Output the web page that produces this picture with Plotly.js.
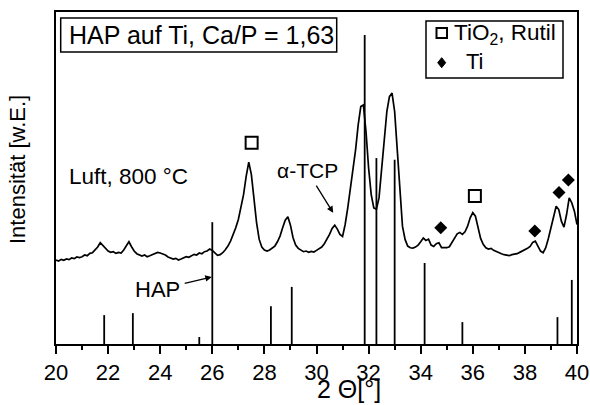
<!DOCTYPE html>
<html>
<head>
<meta charset="utf-8">
<script src="https://cdn.plot.ly/plotly-3.0.1.min.js"></script>
<style>html,body{margin:0;padding:0;background:#fff;}#chart{width:590px;height:405px;}</style>
</head>
<body>
<div id="chart"></div>
<script>
// Measured XRD profile (2 Theta in degrees, intensity in arbitrary units)
var twoTheta = [20.0,20.1,20.2,20.3,20.4,20.5,20.6,20.7,20.8,20.9,21.0,21.1,21.2,21.3,21.4,21.5,21.6,21.7,21.8,21.9,
22.0,22.1,22.2,22.3,22.4,22.5,22.6,22.7,22.8,22.9,23.0,23.1,23.2,23.3,23.4,23.5,23.6,23.7,23.8,23.9,
24.0,24.1,24.2,24.3,24.4,24.5,24.6,24.7,24.8,24.9,25.0,25.1,25.2,25.3,25.4,25.5,25.6,25.7,25.8,25.9,
26.0,26.1,26.2,26.3,26.4,26.5,26.6,26.7,26.8,26.9,27.0,27.1,27.2,27.3,27.4,27.5,27.6,27.7,27.8,27.9,
28.0,28.1,28.2,28.3,28.4,28.5,28.6,28.7,28.8,28.9,29.0,29.1,29.2,29.3,29.4,29.5,29.6,29.7,29.8,29.9,
30.0,30.1,30.2,30.3,30.4,30.5,30.6,30.7,30.8,30.9,31.0,31.1,31.2,31.3,31.4,31.5,31.6,31.7,31.8,31.9,
32.0,32.1,32.2,32.3,32.4,32.5,32.6,32.7,32.8,32.9,33.0,33.1,33.2,33.3,33.4,33.5,33.6,33.7,33.8,33.9,
34.0,34.1,34.2,34.3,34.4,34.5,34.6,34.7,34.8,34.9,35.0,35.1,35.2,35.3,35.4,35.5,35.6,35.7,35.8,35.9,
36.0,36.1,36.2,36.3,36.4,36.5,36.6,36.7,36.8,36.9,37.0,37.1,37.2,37.3,37.4,37.5,37.6,37.7,37.8,37.9,
38.0,38.1,38.2,38.3,38.4,38.5,38.6,38.7,38.8,38.9,39.0,39.1,39.2,39.3,39.4,39.5,39.6,39.7,39.8,39.9,40.0];
var intensity = [25.3,25.0,25.5,25.2,25.6,25.4,25.9,25.7,26.2,26.0,26.3,26.8,26.6,27.3,27.5,28.4,29.2,30.5,29.6,28.9,
28.0,27.6,27.8,27.3,27.6,27.4,28.3,29.6,30.8,29.3,28.0,27.2,26.9,26.5,26.8,26.3,26.6,26.9,27.2,27.6,
27.4,27.1,26.8,26.2,26.0,25.6,25.8,25.3,25.6,26.0,26.3,26.1,26.6,27.0,26.8,27.4,27.2,27.8,28.0,28.6,
28.2,27.3,26.7,26.9,27.5,28.4,29.5,31.0,32.8,35.0,37.5,40.8,45.0,50.5,54.8,51.0,43.5,36.5,31.5,29.2,
28.3,28.0,28.3,28.8,29.5,30.8,32.5,35.0,37.3,38.3,35.8,32.0,29.8,28.8,28.2,27.8,28.0,27.6,27.9,27.7,
28.2,28.6,29.2,30.2,31.5,33.0,34.8,35.8,34.6,33.0,32.4,36.0,41.0,46.5,52.0,58.5,66.0,71.5,72.0,64.0,
53.0,45.0,41.0,40.6,44.0,52.0,62.0,70.0,74.5,75.6,70.0,58.0,44.0,35.5,31.5,29.5,29.0,28.9,29.2,29.8,
30.8,31.9,31.2,31.6,29.8,29.4,30.2,30.5,29.0,28.9,29.0,29.3,30.5,32.0,33.2,33.6,33.0,33.8,35.5,38.0,
39.6,38.5,35.0,31.8,30.0,29.0,28.6,28.8,28.2,27.8,27.6,27.2,26.9,26.7,26.6,26.9,27.0,27.2,27.6,28.0,
28.3,28.8,29.4,30.6,31.0,29.4,28.0,27.5,29.0,31.8,35.0,39.0,41.5,40.5,37.0,35.2,39.0,44.0,42.5,40.0,36.0];

// HAP reference pattern (stick lines)
var hapPos = [21.85,22.95,25.5,26.0,28.25,29.05,31.85,32.3,33.0,34.15,35.6,39.25,39.8];
var hapInt = [8.7,9.3,2.1,36.7,11.4,17.2,93.1,56.0,55.5,24.4,6.6,8.1,19.3];

// Phase markers
var rutilPos = [27.51,36.08];
var rutilInt = [60.6,44.6];
var tiPos = [34.77,38.38,39.31,39.67];
var tiInt = [35.0,34.0,45.6,49.4];

var xTicks = [20,22,24,26,28,30,32,34,36,38,40];

var stickX = [], stickY = [];
for (var i = 0; i < hapPos.length; i++) {
  stickX.push(hapPos[i], hapPos[i], null);
  stickY.push(0, hapInt[i], null);
}

var FONT = 'Liberation Sans, Arial, Helvetica, sans-serif';

var traces = [
  {x: stickX, y: stickY, mode: 'lines', line: {color: '#000', width: 1.8}, hoverinfo: 'skip', showlegend: false},
  {x: twoTheta, y: intensity, mode: 'lines', line: {color: '#000', width: 1.7}, showlegend: false},
  {x: rutilPos, y: rutilInt, mode: 'markers', marker: {symbol: 'square-open', size: 12, color: '#000', line: {width: 2, color: '#000'}}, showlegend: false},
  {x: tiPos, y: tiInt, mode: 'markers', marker: {symbol: 'diamond', size: 10, color: '#000'}, showlegend: false}
];

function px(xp) { return (xp - 56) / 521; }
function py(yp) { return (344 - yp) / 332; }

var layout = {
  width: 590, height: 405,
  margin: {l: 56, r: 13, t: 12, b: 61, pad: 0},
  paper_bgcolor: '#fff', plot_bgcolor: '#fff',
  font: {family: FONT, color: '#000'},
  showlegend: false,
  xaxis: {
    range: [20, 40], tickvals: xTicks, ticktext: xTicks.map(String),
    ticks: 'outside', ticklen: 8, tickwidth: 2, tickcolor: '#000',
    minor: {dtick: 1, tick0: 20, ticks: 'outside', ticklen: 4, tickwidth: 2, tickcolor: '#000'},
    showline: true, linewidth: 2, linecolor: '#000', mirror: true,
    showgrid: false, zeroline: false,
    tickfont: {size: 22, family: FONT, color: '#000'}
  },
  yaxis: {
    range: [0, 100], showticklabels: false, ticks: '',
    showline: true, linewidth: 2, linecolor: '#000', mirror: true,
    showgrid: false, zeroline: false
  },
  shapes: [
    {type: 'rect', xref: 'paper', yref: 'paper', x0: px(60.7), x1: px(336.7), y0: py(52), y1: py(18), line: {color: '#000', width: 1.5}},
    {type: 'rect', xref: 'paper', yref: 'paper', x0: px(426), x1: px(563), y0: py(78), y1: py(21), line: {color: '#000', width: 1.5}},
    {type: 'rect', xref: 'paper', yref: 'paper', x0: px(436.5), x1: px(447), y0: py(38), y1: py(28), line: {color: '#000', width: 2}},
    {type: 'path', xref: 'paper', yref: 'paper', xsizemode: 'pixel', ysizemode: 'pixel', xanchor: px(441.7), yanchor: py(62.7),
     path: 'M0,5 L4,0 L0,-5 L-4,0 Z', fillcolor: '#000', line: {color: '#000', width: 1}}
  ],
  annotations: [
    {xref: 'paper', yref: 'paper', x: px(67), y: py(35), xanchor: 'left', yanchor: 'middle', showarrow: false,
     text: 'HAP auf Ti, Ca/P = 1,63', font: {size: 25, family: FONT, color: '#000'}},
    {xref: 'paper', yref: 'paper', x: px(452), y: py(34), xanchor: 'left', yanchor: 'middle', showarrow: false,
     text: 'TiO<sub>2</sub>, Rutil', font: {size: 22.5, family: FONT, color: '#000'}},
    {xref: 'paper', yref: 'paper', x: px(464), y: py(62), xanchor: 'left', yanchor: 'middle', showarrow: false,
     text: 'Ti', font: {size: 22, family: FONT, color: '#000'}},
    {xref: 'paper', yref: 'paper', x: px(67), y: py(176), xanchor: 'left', yanchor: 'middle', showarrow: false,
     text: 'Luft, 800 °C', font: {size: 22.5, family: FONT, color: '#000'}},
    {xref: 'x', yref: 'y', x: 30.64, y: 39.5, ax: -26, ay: -42, axref: 'pixel', ayref: 'pixel', showarrow: true,
     text: 'α-TCP', font: {size: 21, family: FONT, color: '#000'},
     arrowhead: 2, arrowsize: 1, arrowwidth: 1.3, arrowcolor: '#000', standoff: 0, startstandoff: 2},
    {xref: 'x', yref: 'y', x: 25.98, y: 20.2, ax: -54, ay: 13, axref: 'pixel', ayref: 'pixel', showarrow: true,
     text: 'HAP', font: {size: 22, family: FONT, color: '#000'},
     arrowhead: 2, arrowsize: 1, arrowwidth: 1.3, arrowcolor: '#000', standoff: 0, startstandoff: 3},
    {xref: 'paper', yref: 'paper', x: px(348.5), y: py(389), xanchor: 'center', yanchor: 'middle', showarrow: false,
     text: '2 Θ[°]', font: {size: 25, family: FONT, color: '#000'}},
    {xref: 'paper', yref: 'paper', x: px(17), y: py(170), xanchor: 'center', yanchor: 'middle', showarrow: false, textangle: -90,
     text: 'Intensität [w.E.]', font: {size: 22, family: FONT, color: '#000'}}
  ]
};

Plotly.newPlot('chart', traces, layout, {displayModeBar: false, staticPlot: true});
</script>
</body>
</html>
